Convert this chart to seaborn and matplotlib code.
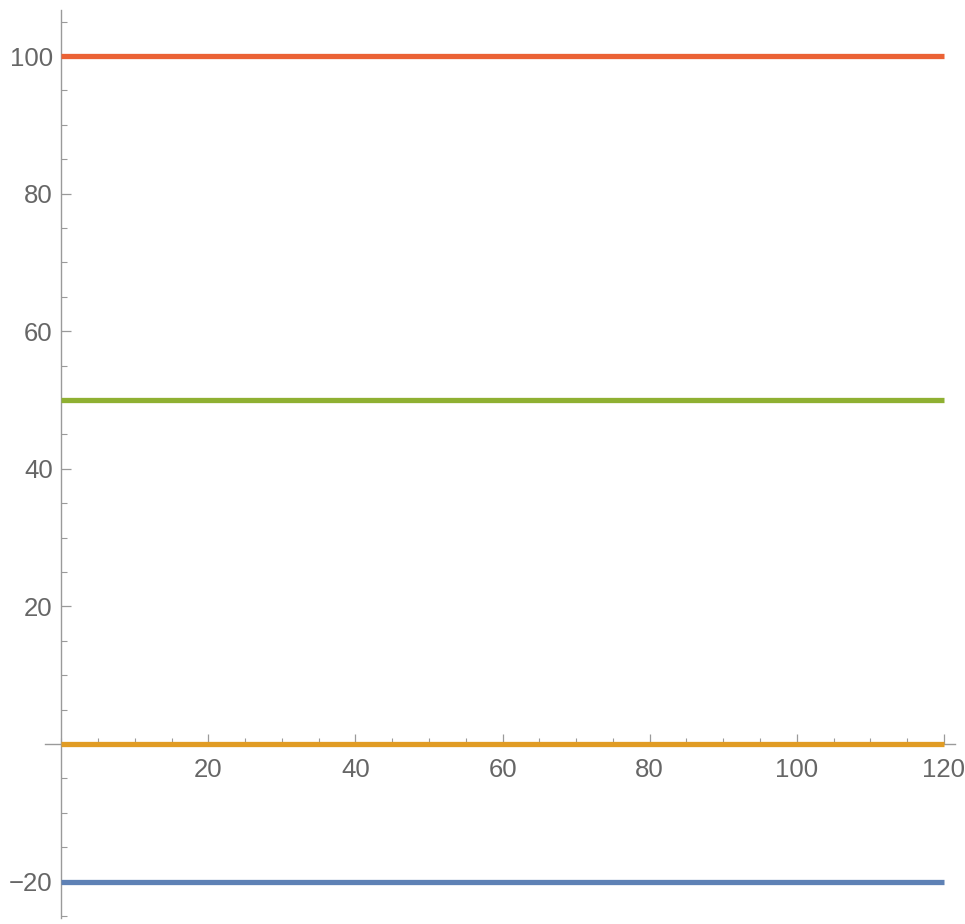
import pandas as pd
import seaborn as sns
import matplotlib
matplotlib.use("Agg")
import matplotlib.pyplot as plt
from matplotlib.ticker import MultipleLocator, FixedLocator

x_vals = [0, 120]
series_names = ["a", "b", "c", "d"]
series_levels = [-20, 0, 50, 100]
series_colors = ["#5E81B5", "#E19C24", "#8FB032", "#EB6235"]
x_major = [20, 40, 60, 80, 100, 120]
y_major = [-20, 20, 40, 60, 80, 100]

rows = []
for name, level in zip(series_names, series_levels):
    for x in x_vals:
        rows.append({"x": x, "y": level, "series": name})
df = pd.DataFrame(rows)

sns.set_style("white")
plt.rcParams["font.family"] = ["Liberation Sans", "DejaVu Sans"]

fig = plt.figure(figsize=(9.65, 9.24), dpi=100)
ax = fig.add_axes([45 / 965, 6 / 924, 910 / 965, 908 / 924])

sns.lineplot(data=df, x="x", y="y", hue="series", palette=series_colors,
             linewidth=3.8, legend=False, ax=ax, zorder=3)
for l in ax.lines:
    l.set_solid_capstyle("butt")

ax.set_xlim(-2.2, 121.5)
ax.set_ylim(-25.3, 106.7)

for s in ["top", "right"]:
    ax.spines[s].set_visible(False)
ax.spines["left"].set_position(("data", 0))
ax.spines["bottom"].set_position(("data", 0))
for s in ["left", "bottom"]:
    ax.spines[s].set_color("#9a9a9a")
    ax.spines[s].set_linewidth(1.0)
    ax.spines[s].set_zorder(1)

ax.xaxis.set_major_locator(FixedLocator(x_major))
ax.yaxis.set_major_locator(FixedLocator(y_major))
ax.xaxis.set_minor_locator(MultipleLocator(5))
ax.yaxis.set_minor_locator(MultipleLocator(5))

ax.tick_params(axis="both", which="both", bottom=True, left=True,
               top=False, right=False)
ax.tick_params(axis="both", which="major", direction="in", length=7.2,
               width=0.9, color="#9a9a9a", labelsize=18.5, labelcolor="#666666")
ax.tick_params(axis="both", which="minor", direction="in", length=4.3,
               width=0.8, color="#9a9a9a")
ax.tick_params(axis="x", which="major", pad=10)
ax.tick_params(axis="y", which="major", pad=6)

ax.set_xlabel("")
ax.set_ylabel("")

fig.savefig("out.png", dpi=100)
